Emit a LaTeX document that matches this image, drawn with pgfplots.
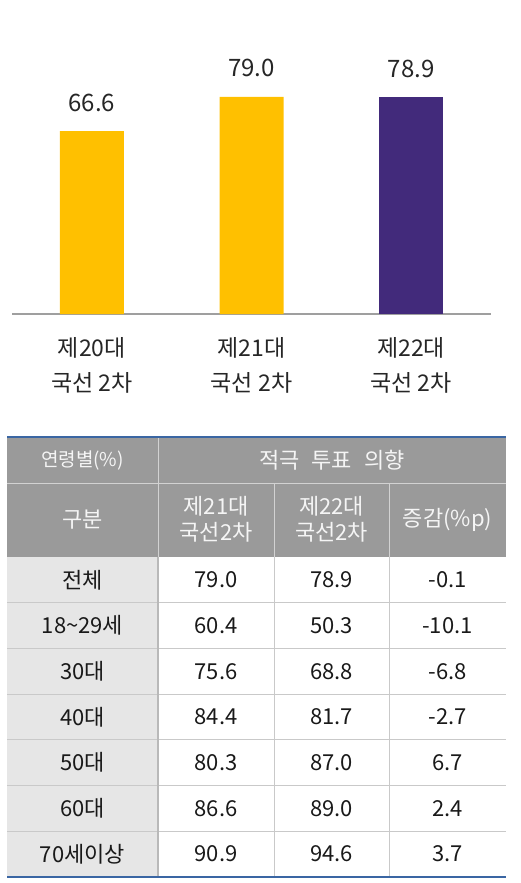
\documentclass[border=0pt]{standalone}
\usepackage{pgfplots}
\pgfplotsset{compat=1.18}
\usepackage{fontspec}
\setmainfont{Noto Sans CJK KR}
\definecolor{ybarc}{HTML}{FFC000}
\definecolor{pbarc}{HTML}{422A7B}
\definecolor{hdr}{HTML}{9A9A9A}
\definecolor{cfirst}{HTML}{E6E6E6}
\definecolor{gridc}{HTML}{C9C9C9}
\definecolor{blu}{HTML}{3A66A3}
\begin{document}
\begin{tikzpicture}
\begin{scope}[x=1pt,y=-1pt]
\useasboundingbox (0,0) rectangle (521,883);
\end{scope}
\begin{axis}[at={(12pt,-314pt)}, anchor=south west, scale only axis,
  width=479pt, height=314pt,
  xmin=-0.5, xmax=2.5, ymin=0, ymax=114.3,
  axis y line=none, axis x line*=bottom,
  x axis line style={-, draw=gray!75, line width=1.3pt},
  xtick={0,1,2}, major tick length=0pt,
  xticklabels={{제20대\\국선 2차},{제21대\\국선 2차},{제22대\\국선 2차}},
  xticklabel style={align=center, font=\fontsize{23}{35}\selectfont, text=black!85, yshift=-20pt},
  clip=false]
\addplot[ybar, bar shift=0pt, bar width=64pt, fill=ybarc, draw=none,
  nodes near coords, point meta=explicit symbolic,
  nodes near coords style={anchor=base, yshift=20pt, font=\fontsize{24}{26}\selectfont, text=black!85}]
  coordinates {(0,66.6) [66.6] (1,79.0) [79.0]};
\addplot[ybar, bar shift=0pt, bar width=64pt, fill=pbarc, draw=none,
  nodes near coords, point meta=explicit symbolic,
  nodes near coords style={anchor=base, yshift=20pt, font=\fontsize{24}{26}\selectfont, text=black!85}]
  coordinates {(2,78.9) [78.9]};
\end{axis}
\begin{scope}[x=1pt,y=-1pt]
\fill[hdr] (7,437) rectangle (506,557);
\fill[cfirst] (7,557) rectangle (158,877);
\draw[line width=1pt, color=gray!35] (7,483)--(506,483) (158,437)--(158,557) (274,483)--(274,557) (389,483)--(389,557);
\foreach \k in {1,...,6} {\draw[line width=1pt, gridc] (7,{557+45.714*\k})--(506,{557+45.714*\k});}
\draw[line width=1pt, gridc] (274,557)--(274,877) (389,557)--(389,877);
\draw[line width=2pt, color=gray!55] (158,557)--(158,877);
\draw[line width=2.5pt, blu] (7,437)--(506,437) (7,877)--(506,877);
\begin{scope}[every node/.style={font=\fontsize{22}{26}\selectfont, text=white!96!black, align=center}]
\node[font=\fontsize{19}{22}\selectfont] at (82.5,460) {연령별(\%)};
\node at (332,460) {적극\hspace{12pt}투표\hspace{12pt}의향};
\node at (82.5,520) {구분};
\node at (216,519) {제21대\\국선2차};
\node at (331.5,519) {제22대\\국선2차};
\node at (447.5,520) {증감(\%p)};
\end{scope}
\begin{scope}[every node/.style={font=\fontsize{22}{24}\selectfont, text=black!90}]
\foreach \a/\b/\c/\d [count=\i from 0] in {전체/79.0/78.9/-0.1, 18\textasciitilde 29세/60.4/50.3/-10.1, 30대/75.6/68.8/-6.8, 40대/84.4/81.7/-2.7, 50대/80.3/87.0/6.7, 60대/86.6/89.0/2.4, 70세이상/90.9/94.6/3.7} {
  \node at (82.5,{557+45.714*(\i+0.5)}) {\a};
  \node at (216,{557+45.714*(\i+0.5)}) {\b};
  \node at (331.5,{557+45.714*(\i+0.5)}) {\c};
  \node at (447.5,{557+45.714*(\i+0.5)}) {\d};
}
\end{scope}
\end{scope}
\end{tikzpicture}
\end{document}
